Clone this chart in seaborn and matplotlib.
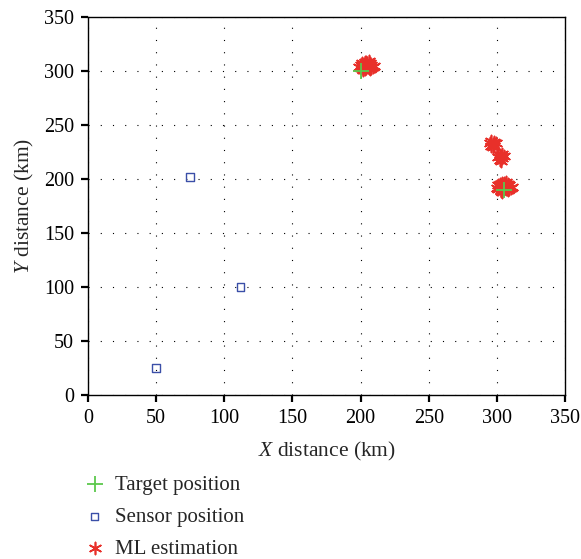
import matplotlib
matplotlib.use("Agg")
import matplotlib.pyplot as plt
import seaborn as sns
import pandas as pd

# --- data ---
target_x = [200, 305]
target_y = [300, 190]

sensor_x = [50, 75, 112]
sensor_y = [25, 202, 100]

ml_x = [204, 202, 206, 208, 200, 203, 205, 207, 201, 209, 204, 206, 202, 199, 205, 203, 207, 210, 201, 204,
        206, 203, 208, 205, 200, 202, 204, 206, 207, 203,
        305, 303, 307, 309, 301, 304, 306, 308, 302, 310, 305, 307, 303, 300, 306, 304, 308, 311, 302, 305,
        307, 304, 309, 306, 301, 303, 305, 307, 308, 304,
        297, 298, 296, 299, 297, 295, 298, 296,
        303, 302, 304, 305, 303, 301, 304, 302, 303]
ml_y = [305, 306, 304, 306, 303, 308, 307, 302, 305, 304, 303, 309, 301, 304, 305, 302, 307, 305, 307, 308,
        303, 304, 303, 306, 306, 302, 307, 305, 304, 306,
        193, 194, 192, 194, 191, 196, 195, 190, 193, 192, 191, 197, 189, 192, 193, 190, 195, 193, 195, 196,
        191, 192, 191, 194, 194, 190, 195, 193, 192, 188,
        232, 234, 231, 233, 230, 233, 231, 235,
        220, 222, 219, 221, 217, 220, 223, 218, 221]

df_t = pd.DataFrame({"x": target_x, "y": target_y})
df_s = pd.DataFrame({"x": sensor_x, "y": sensor_y})
df_m = pd.DataFrame({"x": ml_x, "y": ml_y})

sns.set_style("ticks")
plt.rcParams["font.family"] = ["Liberation Serif", "DejaVu Serif"]
plt.rcParams["mathtext.fontset"] = "custom"
plt.rcParams["mathtext.it"] = "Liberation Serif:italic"
plt.rcParams["mathtext.rm"] = "Liberation Serif"

fig = plt.figure(figsize=(5.81, 5.59), dpi=100)
ax = fig.add_axes([0.1515, 0.2934, 0.821, 0.6762])

sns.scatterplot(data=df_m, x="x", y="y", ax=ax, marker=(6, 2, 0), s=75, color="#e8302a",
                linewidth=1.2, label="ML estimation", zorder=3)
sns.scatterplot(data=df_t, x="x", y="y", ax=ax, marker="+", s=120, color="#5cc84c",
                linewidth=1.3, label="Target position", zorder=4)
sns.scatterplot(data=df_s, x="x", y="y", ax=ax, marker="s", s=30, facecolor="none",
                edgecolor="#3b4fa8", linewidth=1.0, label="Sensor position", zorder=4)

ax.set_xlim(0, 350)
ax.set_ylim(0, 350)
ax.set_xticks(range(0, 351, 50))
ax.set_yticks(range(0, 351, 50))
ax.grid(True, color="black", linestyle=(0, (1, 10)), linewidth=0.8)
for s in ax.spines.values():
    s.set_visible(True)
    s.set_color("black")
    s.set_linewidth(1.0)
ax.tick_params(direction="out", length=5, width=1.6, labelsize=14.5, colors="black", pad=5)
ax.set_xlabel("$X$ distance (km)", fontsize=15.5, labelpad=9)
ax.set_ylabel("$Y$ distance (km)", fontsize=15.5, labelpad=6)

h, l = ax.get_legend_handles_labels()
order = [1, 2, 0]
ax.legend([h[i] for i in order], [l[i] for i in order], loc="upper left",
          bbox_to_anchor=(-0.03, -0.19), frameon=False, fontsize=15,
          handletextpad=0.4, labelspacing=0.6, handlelength=1.2, borderaxespad=0)

fig.savefig("out.png", dpi=100)
